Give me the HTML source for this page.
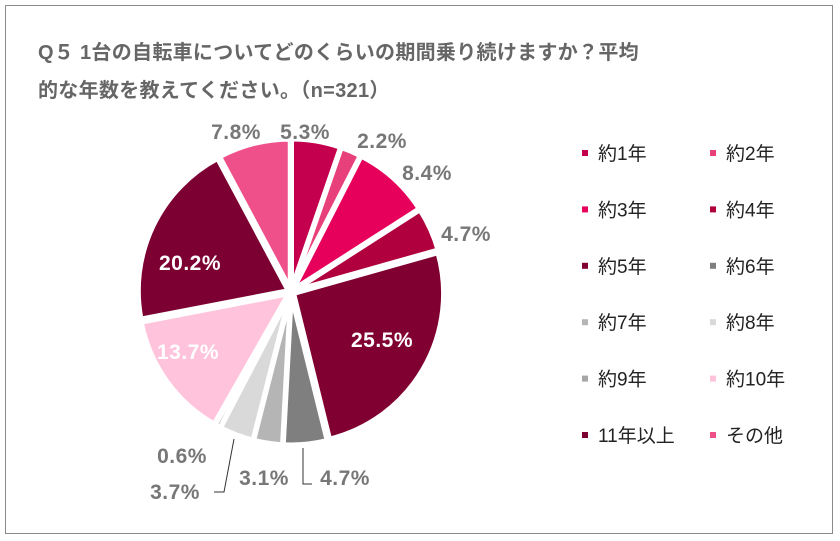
<!DOCTYPE html>
<html><head><meta charset="utf-8"><style>
body{margin:0;background:#fff;width:840px;height:541px;overflow:hidden;font-family:"Liberation Sans","Noto Sans CJK JP",sans-serif}
#frame{position:absolute;left:5px;top:5px;width:828px;height:529px;border:1px solid #8a8a8a;box-sizing:border-box}
.t{position:absolute;left:38px;font-size:20px;font-weight:bold;color:#666;letter-spacing:0.3px}
</style></head><body>
<div id="frame"></div>
<div class="t" style="top:36px">Q５ 1台の自転車についてどのくらいの期間乗り続けますか？平均</div>
<div class="t" style="top:74px">的な年数を教えてください。（n=321）</div>
<svg id="svg" width="840" height="541" style="position:absolute;left:0;top:0"></svg>
<script>
const categories=["約1年","約2年","約3年","約4年","約5年","約6年","約7年","約8年","約9年","約10年","11年以上","その他"];
const values=[5.3,2.2,8.4,4.7,25.5,4.7,3.1,3.7,0.6,13.7,20.2,7.8];
const colors=["#c4004e","#e8407a","#e6005c","#b0003e","#800032","#7f7f7f","#b5b5b5","#d9d9d9","#a6a6a6","#ffc3db","#7d0033","#f0508a"];
const labelPos=[[305,139,"#777"],[382,148,"#777"],[427,180,"#777"],[466,241,"#777"],[382,347,"#fff"],[345,485,"#777"],[264,485,"#777"],[175,499,"#777"],[182,463,"#777"],[188,359,"#fff"],[190,270,"#fff"],[236,139,"#777"]];
const NS="http://www.w3.org/2000/svg",svg=document.getElementById('svg');
const cx=291,cy=292,r=150;
const total=values.reduce((a,b)=>a+b,0);
let a0=0;
values.forEach((v,i)=>{
  const a1=a0+v/total*2*Math.PI, m=(a0+a1)/2;
  const ox=cx+3*Math.sin(m), oy=cy-3*Math.cos(m);
  const p=(a)=>[ox+r*Math.sin(a),oy-r*Math.cos(a)];
  const s=p(a0),e=p(a1);
  const path=document.createElementNS(NS,'path');
  path.setAttribute('d',`M${ox},${oy}L${s[0]},${s[1]}A${r},${r} 0 ${a1-a0>Math.PI?1:0} 1 ${e[0]},${e[1]}Z`);
  path.setAttribute('fill',colors[i]);path.setAttribute('stroke','#fff');path.setAttribute('stroke-width','5');path.setAttribute('stroke-linejoin','round');
  
  
  svg.appendChild(path);
  a0=a1;
});
values.forEach((v,i)=>{
  const t=document.createElementNS(NS,'text');
  t.setAttribute('x',labelPos[i][0]);t.setAttribute('y',labelPos[i][1]);
  t.setAttribute('text-anchor','middle');t.setAttribute('font-size','21');t.setAttribute('font-weight','bold');
  t.setAttribute('fill',labelPos[i][2]);t.setAttribute('font-family','Liberation Sans, sans-serif');
  t.setAttribute('letter-spacing','0.5');
  t.textContent=v.toFixed(1)+'%';
  
  
  svg.appendChild(t);
});
[["M303,448 L303,484 L312,484"],["M234,439 L224,492 L214,492"]].forEach((d,k)=>{
  const l=document.createElementNS(NS,'path');l.setAttribute('d',d[0]);l.setAttribute('fill','none');l.setAttribute('stroke','#333');l.setAttribute('stroke-width','1');
  
  
  svg.appendChild(l);
});
categories.forEach((c,i)=>{
  const col=i%2,row=Math.floor(i/2),x=col?713:585,y=153+row*56.4;
  const rc=document.createElementNS(NS,'rect');
  rc.setAttribute('x',x-3);rc.setAttribute('y',y-3);rc.setAttribute('width',6);rc.setAttribute('height',6);rc.setAttribute('fill',colors[i]);
  
  
  svg.appendChild(rc);
  const t=document.createElementNS(NS,'text');
  t.setAttribute('x',x+13);t.setAttribute('y',y+7);t.setAttribute('font-size','19');t.setAttribute('fill','#222');
  t.setAttribute('font-family','Liberation Sans, Noto Sans CJK JP, sans-serif');
  t.textContent=c;
  
  
  svg.appendChild(t);
});
</script>
</body></html>
